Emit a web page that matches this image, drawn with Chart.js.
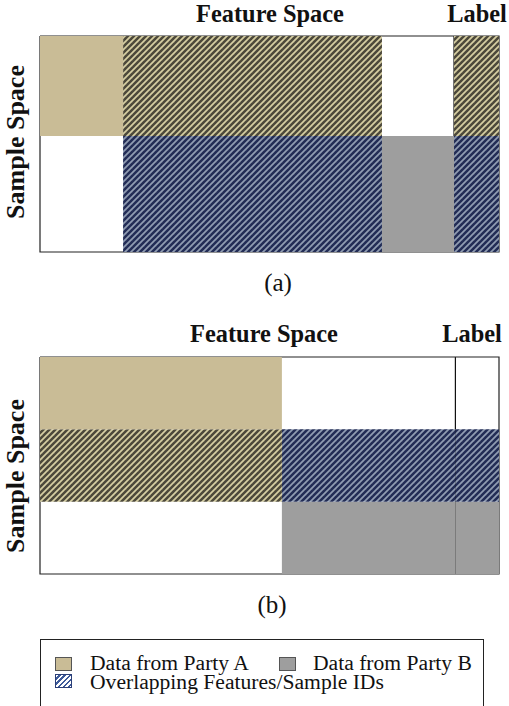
<!DOCTYPE html>
<html>
<head>
<meta charset="utf-8">
<script src="https://cdn.jsdelivr.net/npm/chart.js@4"></script>
<style>
  body { margin: 0; background: #fff; width: 509px; height: 706px; position: relative; overflow: hidden;
         font-family: "Liberation Serif", "Tinos", "Times New Roman", "DejaVu Serif", serif; color: #111; }
  canvas { position: absolute; }
  .t { position: absolute; transform: translate(-50%, -50%); white-space: nowrap; }
  .h { font-weight: bold; font-size: 24.4px; }
  .side { font-weight: bold; font-size: 26px; transform: translate(-50%, -50%) rotate(-90deg); }
  .cap { font-size: 25px; }
  #legend { position: absolute; left: 40px; top: 639px; width: 442px; height: 90px; border: 1px solid #222; }
  .sw { position: absolute; width: 15px; height: 12px; border: 1px solid #555; }
  .lt { position: absolute; font-size: 21.6px; line-height: 22px; white-space: nowrap; }
</style>
</head>
<body>
<div class="t h" style="left:270px; top:14px;">Feature Space</div>
<div class="t h" style="left:477px; top:14px;">Label</div>
<div class="t side" style="left:16px; top:142px;">Sample Space</div>
<canvas id="chartA" width="479" height="236" style="left:30px; top:26px;"></canvas>
<div class="t cap" style="left:278px; top:283px;">(a)</div>

<div class="t h" style="left:264px; top:334px;">Feature Space</div>
<div class="t h" style="left:472px; top:334px;">Label</div>
<div class="t side" style="left:16px; top:476px;">Sample Space</div>
<canvas id="chartB" width="479" height="237" style="left:30px; top:347px;"></canvas>
<div class="t cap" style="left:272px; top:605px;">(b)</div>

<div id="legend">
  <div class="sw" style="left:14px; top:17px; background:#c9bc96;"></div>
  <div class="lt" style="left:49px; top:12px;">Data from Party A</div>
  <div class="sw" style="left:238px; top:17px; background:#9e9e9e;"></div>
  <div class="lt" style="left:272px; top:12px;">Data from Party B</div>
  <div class="sw" style="left:14px; top:34px; border-color:#2b3f78;
       background: repeating-linear-gradient(135deg, #fff 0 2px, #3d5a9a 2px 3.6px);"></div>
  <div class="lt" style="left:49px; top:31px;">Overlapping Features/Sample IDs</div>
</div>

<script>
// Panel (a): vertical split, feature columns x sample rows (percent of each axis)
const colsA = [0, 18.1, 74.5, 90.2, 100];
const rowsA = [0, 46.3, 100];
const gridA = [
  ['A', 'A+', '', 'A+'],
  ['', 'B+', 'B', 'B+']
];
const labelEdgeA = 90.2;

// Panel (b): horizontal split
const colsB = [0, 52.7, 90.5, 100];
const rowsB = [0, 33.3, 66.7, 100];
const gridB = [
  ['A', '', ''],
  ['A+', 'B+', 'B+'],
  ['', 'B', 'B']
];
const labelEdgeB = 90.5;

function hatch(bg, stripe) {
  const n = 6;
  const c = document.createElement('canvas');
  c.width = n; c.height = n;
  const g = c.getContext('2d');
  g.fillStyle = bg;
  g.fillRect(0, 0, n, n);
  g.strokeStyle = stripe;
  g.lineWidth = 2.5;
  [0, n, 2 * n].forEach(k => {
    g.beginPath();
    g.moveTo(-1, k + 1);
    g.lineTo(k + 1, -1);
    g.stroke();
  });
  return g.createPattern(c, 'repeat');
}

const fills = {
  'A': '#c9bc96',
  'B': '#9e9e9e',
  'A+': hatch('#d6cea2', '#4c483a'),
  'B+': hatch('#909cb2', '#222c55')
};

function rect(x0, x1, y0, y1) {
  return [{x: x0, y: y0}, {x: x1, y: y0}, {x: x1, y: y1}, {x: x0, y: y1}, {x: x0, y: y0}];
}

function buildDatasets(cols, rows, grid, labelEdge) {
  const sets = [];
  grid.forEach((row, r) => {
    row.forEach((kind, c) => {
      if (!kind) return;
      sets.push({
        data: rect(cols[c], cols[c + 1], rows[r], rows[r + 1]),
        showLine: true,
        fill: 'shape',
        backgroundColor: fills[kind],
        borderColor: 'transparent',
        borderWidth: 0,
        pointRadius: 0
      });
    });
  });
  // outer frame and the line that separates the label column
  sets.push({
    data: rect(0, 100, 0, 100),
    showLine: true, fill: false, borderColor: '#222', borderWidth: 1.2, pointRadius: 0
  });
  sets.push({
    data: [{x: labelEdge, y: 0}, {x: labelEdge, y: 100}],
    showLine: true, fill: false, borderColor: '#111', borderWidth: 1.2, pointRadius: 0
  });
  return sets;
}

function makeChart(id, cols, rows, grid, labelEdge) {
  return new Chart(document.getElementById(id), {
    type: 'scatter',
    data: { datasets: buildDatasets(cols, rows, grid, labelEdge) },
    options: {
      responsive: false,
      animation: false,
      events: [],
      clip: false,
      layout: { padding: 10 },
      plugins: { legend: { display: false }, tooltip: { enabled: false } },
      scales: {
        x: { type: 'linear', min: 0, max: 100, display: false },
        y: { type: 'linear', min: 0, max: 100, reverse: true, display: false }
      }
    }
  });
}

const chartA = makeChart('chartA', colsA, rowsA, gridA, labelEdgeA);
const chartB = makeChart('chartB', colsB, rowsB, gridB, labelEdgeB);
</script>
</body>
</html>
